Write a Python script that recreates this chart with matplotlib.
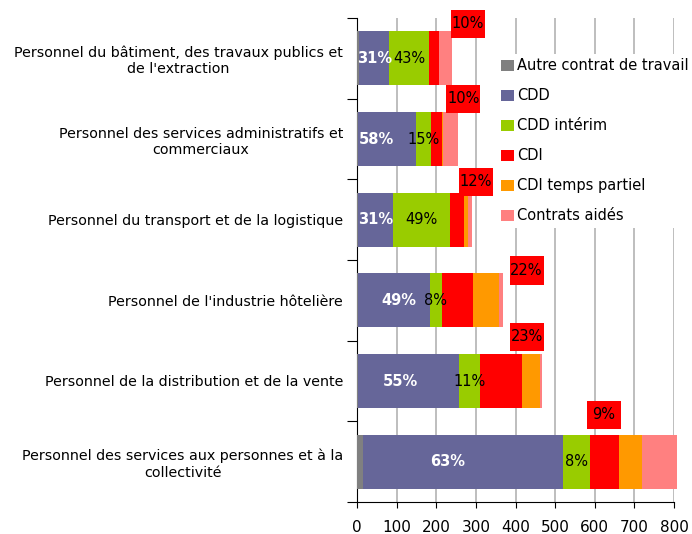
import matplotlib
matplotlib.use('Agg')
import matplotlib.pyplot as plt
from matplotlib.patches import Rectangle

plt.rcParams['font.family'] = ['DejaVu Sans']

categories = [
    "Personnel du bâtiment, des travaux publics et\nde l'extraction",
    "Personnel des services administratifs et\ncommerciaux",
    "Personnel du transport et de la logistique",
    "Personnel de l'industrie hôtelière",
    "Personnel de la distribution et de la vente",
    "Personnel des services aux personnes et à la\ncollectivité",
]
series_names = ["Autre contrat de travail", "CDD", "CDD intérim", "CDI",
                "CDI temps partiel", "Contrats aidés"]
autre = [5, 3, 3, 3, 3, 14]
cdd = [76, 145, 88, 180, 255, 505]
cdd_interim = [101, 39, 144, 32, 52, 69]
cdi = [25, 28, 35, 78, 107, 73]
cdi_tp = [1, 2, 9, 66, 45, 59]
aides = [32, 38, 11, 9, 5, 88]

cdd_pct = ['31%', '58%', '31%', '49%', '55%', '63%']
interim_pct = ['43%', '15%', '49%', '8%', '11%', '8%']
cdi_pct = ['10%', '10%', '12%', '22%', '23%', '9%']

colors = ['#808080', '#666699', '#99CC00', '#FF0000', '#FF9900', '#FF8080']

# label placement (manual positions in the original)
cdd_label_x = [45, 49, 48, 105, 109, 228]
cdi_label_x = [280, 268, 300, 428, 430, 623]
cdi_label_dy = [0.43, 0.50, 0.47, 0.37, 0.55, 0.58]

fig = plt.figure(figsize=(6.92, 5.34), dpi=100)
ax = fig.add_axes([357/692, 32/534, 317/692, 484/534])

y = list(range(len(categories)))
series = [autre, cdd, cdd_interim, cdi, cdi_tp, aides]
left = [0] * len(categories)
handles = []
for vals, col, name in zip(series, colors, series_names):
    b = ax.barh(y, vals, left=left, height=0.67, color=col, label=name,
                zorder=3, clip_on=False)
    handles.append(b)
    left = [l + v for l, v in zip(left, vals)]

starts_interim = [a + c for a, c in zip(autre, cdd)]
for i in y:
    ax.text(cdd_label_x[i], i, cdd_pct[i], color='white', fontweight='bold',
            fontsize=10.5, ha='center', va='center', zorder=5)
    ax.text(starts_interim[i] + cdd_interim[i] / 2, i, interim_pct[i],
            color='black', fontsize=10.5, ha='center', va='center', zorder=5)
    cy = i - cdi_label_dy[i]
    w, h = 86, 0.35
    ax.add_patch(Rectangle((cdi_label_x[i] - w / 2, cy - h / 2), w, h,
                           facecolor='#FF0000', edgecolor='none', zorder=6,
                           clip_on=False))
    ax.text(cdi_label_x[i], cy, cdi_pct[i], color='black', fontsize=10.5,
            ha='center', va='center', zorder=7, clip_on=False)

ax.set_xlim(0, 800)
ax.set_ylim(5.5, -0.5)
ax.set_xticks(range(0, 801, 100))
ax.tick_params(axis='x', labelsize=11, pad=9, length=4, direction='out')
ax.xaxis.grid(True, color='#b3b3b3', linewidth=1.2, zorder=0)
ax.set_axisbelow(True)

ax.set_yticks([i - 0.5 for i in range(len(categories) + 1)])
ax.set_yticklabels([])
ax.tick_params(axis='y', which='major', length=7, direction='out')
ax.set_yticks(y, minor=True)
ax.set_yticklabels(categories, minor=True, fontsize=10.3)
ax.tick_params(axis='y', which='minor', length=0, pad=10)
for lbl in ax.get_yticklabels(minor=True):
    lbl.set_multialignment('center')

ax.spines['top'].set_visible(False)
ax.spines['right'].set_visible(False)
ax.spines['left'].set_color('black')
ax.spines['bottom'].set_color('black')

leg = fig.legend(handles=handles, labels=series_names,
                 loc='upper left', bbox_to_anchor=(497/692, 1 - 54/534),
                 frameon=True, fancybox=False, edgecolor='none',
                 facecolor='white', framealpha=1, fontsize=10.5,
                 handlelength=0.85, handleheight=0.85, handletextpad=0.25,
                 labelspacing=1.03, borderpad=0.3, borderaxespad=0)

fig.savefig('out.png', dpi=100)
